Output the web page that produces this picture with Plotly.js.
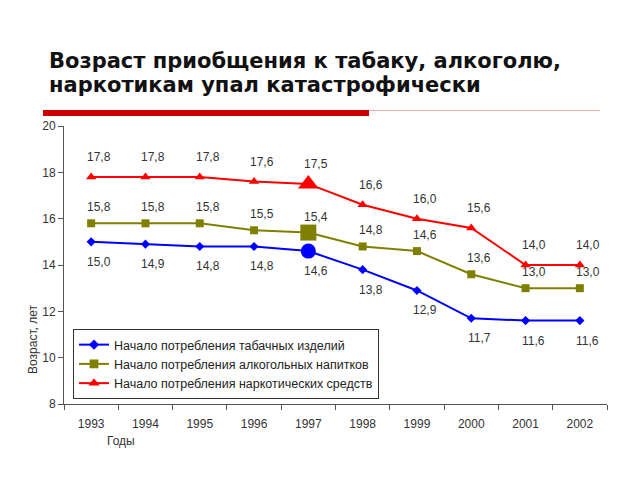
<!DOCTYPE html>
<html><head><meta charset="utf-8">
<script src="https://cdn.plot.ly/plotly-3.0.1.min.js"></script>
<style>body{margin:0;padding:0;background:#fff}#c{width:640px;height:480px}</style>
</head><body><div id="c"></div>
<script>
const years = ["1993","1994","1995","1996","1997","1998","1999","2000","2001","2002"];
const tobacco = [15.0, 14.9, 14.8, 14.8, 14.6, 13.8, 12.9, 11.7, 11.6, 11.6];
const alcohol = [15.8, 15.8, 15.8, 15.5, 15.4, 14.8, 14.6, 13.6, 13.0, 13.0];
const drugs = [17.8, 17.8, 17.8, 17.6, 17.5, 16.6, 16.0, 15.6, 14.0, 14.0];
const names = ["Начало потребления табачных изделий","Начало потребления алкогольных напитков","Начало потребления наркотических средств"];
const yTicks = [8,10,12,14,16,18,20];
const titleLines = ["Возраст приобщения к табаку, алкоголю,", "наркотикам упал катастрофически"];

const fmt = v => v.toFixed(1).replace('.', ',');
const hi = 4; // highlighted index (1997)
const pick = (a, b) => years.map((_, i) => i === hi ? b : a);

const series = [
  {y: tobacco, name: names[0], color: '#0000ff', symbol: 'diamond', bigSymbol: 'circle', s: 7, b: 15, shift: 20},
  {y: alcohol, name: names[1], color: '#808000', symbol: 'square', bigSymbol: 'square', s: 8, b: 16, shift: -16},
  {y: drugs, name: names[2], color: '#ff0000', symbol: 'triangle-up', bigSymbol: 'triangle-up', s: 9, b: 18, shift: -20}
];

const traces = series.map(s => ({
  x: years, y: s.y, name: s.name, type: 'scatter', mode: 'lines+markers',
  line: {color: s.color, width: 2},
  marker: {color: s.color, symbol: pick(s.symbol, s.bigSymbol), size: pick(s.s, s.b), opacity: 1,
    line: {width: 0}}
}));

const lblFont = {family: 'Liberation Sans, Arial', size: 12, color: '#333'};
const annotations = [];
series.forEach(s => {
  s.y.forEach((v, i) => annotations.push({
    x: i, y: v, xref: 'x', yref: 'y', text: fmt(v), showarrow: false,
    xanchor: 'center', yanchor: 'middle', xshift: 8, yshift: -s.shift, font: lblFont
  }));
});
annotations.push({xref: 'paper', yref: 'paper', x: (33-64)/543, y: (404-339)/278, text: 'Возраст, лет',
  xanchor: 'center', yanchor: 'middle', textangle: -90, showarrow: false, font: lblFont});
annotations.push({xref: 'paper', yref: 'paper', x: (105-64)/543, y: (404-441)/278, xanchor: 'left', yanchor: 'middle',
  text: 'Годы', showarrow: false, font: lblFont});
const tFont = {family: 'DejaVu Sans, Verdana', size: 21, color: '#111', weight: 'bold'};
annotations.push({xref: 'paper', yref: 'paper', x: (47-64)/543, y: (404-61)/278, xanchor: 'left', yanchor: 'middle',
  text: titleLines[0], showarrow: false, font: tFont});
annotations.push({xref: 'paper', yref: 'paper', x: (47-64)/543, y: (404-85)/278, xanchor: 'left', yanchor: 'middle',
  text: titleLines[1], showarrow: false, font: tFont});

const layout = {
  width: 640, height: 480,
  margin: {l: 64, r: 33, t: 126, b: 76},
  paper_bgcolor: '#fff', plot_bgcolor: '#fff',
  xaxis: {type: 'category', range: [-0.5, 9.5], showline: true, linecolor: '#555', linewidth: 1,
    ticks: 'outside', tickson: 'boundaries', ticklen: 5, tickcolor: '#555', showgrid: false, zeroline: false,
    ticklabelstandoff: 9, tickfont: lblFont, fixedrange: true},
  yaxis: {range: [8, 20], tickvals: yTicks, ticktext: yTicks.map(String), showline: true, linecolor: '#555', linewidth: 1,
    ticks: 'outside', ticklen: 5, tickcolor: '#555', showgrid: false, zeroline: false, tickfont: lblFont},
  showlegend: true,
  legend: {x: (73-64)/543, y: (404-329)/278, xanchor: 'left', yanchor: 'top', bgcolor: '#fff',
    bordercolor: '#333', borderwidth: 1, tracegroupgap: 0,
    font: {family: 'Liberation Sans, Arial', size: 12.5, color: '#222'}},
  annotations: annotations,
  shapes: [
    {type: 'rect', xref: 'paper', yref: 'paper', x0: (43-64)/543, x1: (369-64)/543, y0: (404-116)/278, y1: (404-110)/278,
      fillcolor: '#cc0000', line: {width: 0}},
    {type: 'line', xref: 'paper', yref: 'paper', x0: (369-64)/543, x1: (600-64)/543, y0: (404-110.5)/278, y1: (404-110.5)/278,
      line: {color: '#e8b0b0', width: 1}}
  ]
};
Plotly.newPlot('c', traces, layout, {displayModeBar: false, staticPlot: true});
</script></body></html>
